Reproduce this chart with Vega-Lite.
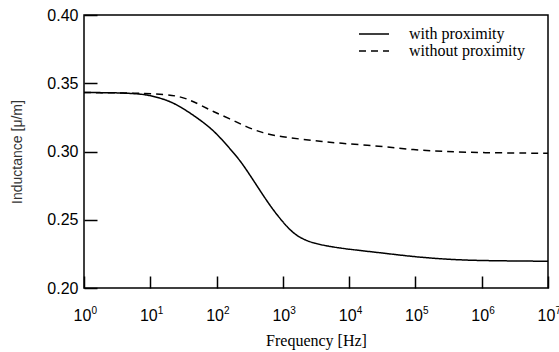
{
  "$schema": "https://vega.github.io/schema/vega-lite/v6.json",
  "width": 464,
  "height": 273,
  "autosize": {"type": "none"},
  "padding": {"left": 84, "top": 15, "right": 11, "bottom": 64},
  "background": "white",
  "config": {
    "view": {"stroke": "black", "strokeWidth": 1.5},
    "axis": {"grid": false, "domain": false, "tickColor": "black", "tickWidth": 1.5, "labelColor": "black", "labelFont": "Liberation Sans", "labelFontSize": 16}
  },
  "data": {"values": [
    {"f": 1, "L": 0.3432, "s": "with proximity"},
    {"f": 3.16, "L": 0.3431, "s": "with proximity"},
    {"f": 7.08, "L": 0.3422, "s": "with proximity"},
    {"f": 10, "L": 0.3410, "s": "with proximity"},
    {"f": 17.8, "L": 0.3378, "s": "with proximity"},
    {"f": 28.2, "L": 0.3330, "s": "with proximity"},
    {"f": 50.1, "L": 0.325, "s": "with proximity"},
    {"f": 89.1, "L": 0.3158, "s": "with proximity"},
    {"f": 141, "L": 0.305, "s": "with proximity"},
    {"f": 224, "L": 0.2938, "s": "with proximity"},
    {"f": 316, "L": 0.2830, "s": "with proximity"},
    {"f": 447, "L": 0.2718, "s": "with proximity"},
    {"f": 708, "L": 0.2571, "s": "with proximity"},
    {"f": 1259, "L": 0.2425, "s": "with proximity"},
    {"f": 1778, "L": 0.2370, "s": "with proximity"},
    {"f": 2818, "L": 0.2327, "s": "with proximity"},
    {"f": 7079, "L": 0.2291, "s": "with proximity"},
    {"f": 28840, "L": 0.2259, "s": "with proximity"},
    {"f": 93300, "L": 0.2229, "s": "with proximity"},
    {"f": 295000, "L": 0.221, "s": "with proximity"},
    {"f": 933000, "L": 0.2200, "s": "with proximity"},
    {"f": 10000000, "L": 0.2196, "s": "with proximity"},
    {"f": 1, "L": 0.3432, "s": "without proximity"},
    {"f": 7.08, "L": 0.3428, "s": "without proximity"},
    {"f": 17.8, "L": 0.3418, "s": "without proximity"},
    {"f": 28.2, "L": 0.3402, "s": "without proximity"},
    {"f": 39.8, "L": 0.3377, "s": "without proximity"},
    {"f": 57.5, "L": 0.334, "s": "without proximity"},
    {"f": 89.1, "L": 0.3292, "s": "without proximity"},
    {"f": 158, "L": 0.3240, "s": "without proximity"},
    {"f": 282, "L": 0.318, "s": "without proximity"},
    {"f": 501, "L": 0.3135, "s": "without proximity"},
    {"f": 912, "L": 0.3109, "s": "without proximity"},
    {"f": 2884, "L": 0.3079, "s": "without proximity"},
    {"f": 7244, "L": 0.306, "s": "without proximity"},
    {"f": 28840, "L": 0.304, "s": "without proximity"},
    {"f": 93300, "L": 0.3011, "s": "without proximity"},
    {"f": 295000, "L": 0.2999, "s": "without proximity"},
    {"f": 933000, "L": 0.2991, "s": "without proximity"},
    {"f": 10000000, "L": 0.2987, "s": "without proximity"}
  ]},
  "layer": [
    {
      "mark": {"type": "line", "color": "black", "strokeWidth": 1.5, "interpolate": "basis"},
      "encoding": {
        "x": {
          "field": "f", "type": "quantitative",
          "scale": {"type": "log", "domain": [1, 10000000]},
          "axis": {
            "orient": "bottom",
            "values": [1, 10, 100, 1000, 10000, 100000, 1000000, 10000000],
            "labelExpr": "'10'",
            "tickSize": -12, "labelPadding": 31, "labelOffset": -2, "labelFlush": false, "labelOverlap": false,
            "title": "Frequency [Hz]", "titleFont": "Liberation Serif", "titleFontSize": 16, "titleFontWeight": "normal", "titleColor": "black", "titlePadding": 9
          }
        },
        "y": {
          "field": "L", "type": "quantitative",
          "scale": {"domain": [0.2, 0.4]},
          "axis": {
            "values": [0.2, 0.25, 0.3, 0.35, 0.4], "format": ".2f",
            "tickSize": -13, "labelPadding": 19, "labelFlush": false,
            "title": "Inductance [μ/m]", "titleFont": "Liberation Sans", "titleFontSize": 14, "titleFontWeight": "normal", "titleColor": "#333", "titlePadding": 22
          }
        },
        "strokeDash": {
          "field": "s", "type": "nominal",
          "scale": {"domain": ["with proximity", "without proximity"], "range": [[1, 0], [7, 5]]},
          "legend": {
            "title": null, "orient": "none", "legendX": 282, "legendY": 11,
            "symbolType": "M-3,0H3", "symbolSize": 100, "symbolStrokeColor": "black", "symbolStrokeWidth": 1.5, "symbolFillColor": "transparent",
            "labelFont": "Liberation Serif", "labelFontSize": 16, "labelColor": "black", "labelOffset": 27, "rowPadding": 1, "padding": 0
          }
        }
      }
    },
    {
      "mark": {"type": "point", "opacity": 0},
      "encoding": {
        "x": {
          "field": "f", "type": "quantitative",
          "axis": {
            "orient": "bottom",
            "values": [1, 10, 100, 1000, 10000, 100000, 1000000, 10000000],
            "labelExpr": "['0','1','2','3','4','5','6','7'][round(log(datum.value)/LN10)]",
            "tickSize": -12, "tickOpacity": 0, "labelPadding": 29, "labelOffset": 7, "labelAlign": "left",
            "labelFontSize": 10, "labelFlush": false, "labelOverlap": false, "title": null
          }
        }
      }
    }
  ],
  "resolve": {"axis": {"x": "independent"}}
}
